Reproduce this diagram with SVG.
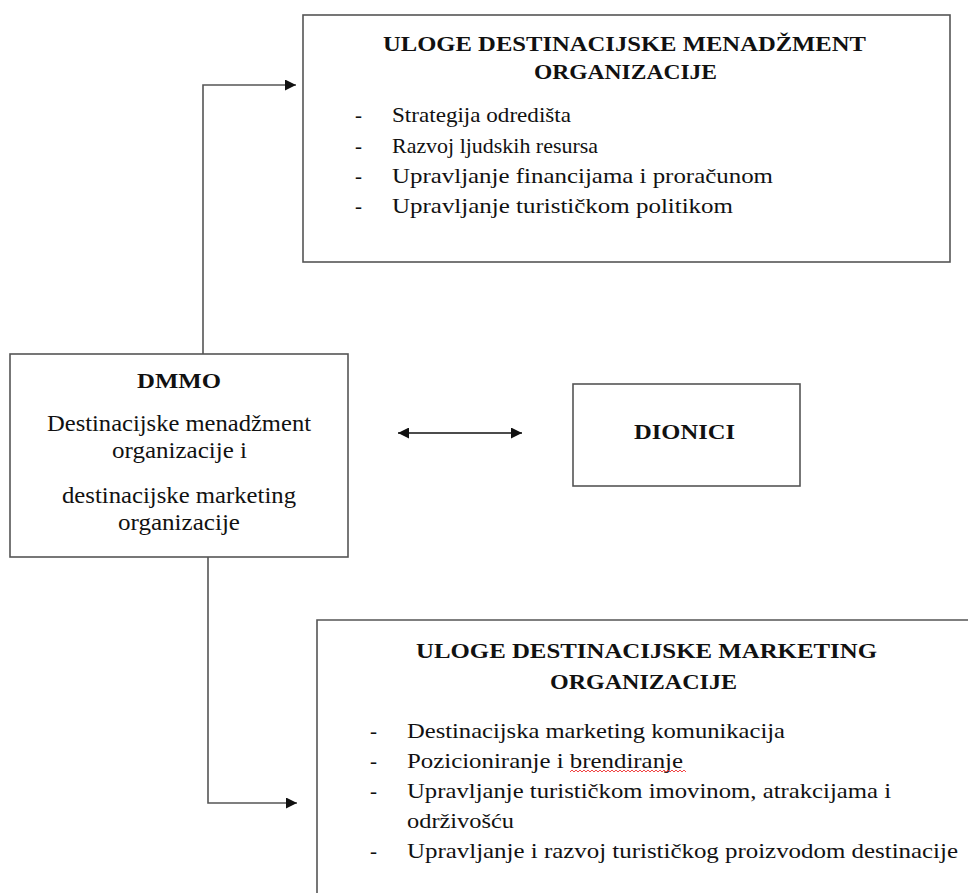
<svg xmlns="http://www.w3.org/2000/svg" width="968" height="893" viewBox="0 0 968 893">
<style>
.box{fill:#fff;stroke:#555;stroke-width:1.6}
.ln{fill:none;stroke:#555;stroke-width:1.6}
text{font-family:"Liberation Serif","DejaVu Serif",serif;fill:#111;font-size:21px}
.b{font-weight:bold;font-size:22px}
.d{font-size:23px}
</style>
<defs>
<marker id="ah" viewBox="0 0 10 10" refX="10" refY="5" markerWidth="11" markerHeight="11" markerUnits="userSpaceOnUse" orient="auto-start-reverse">
<path d="M0,0 L10,5 L0,10 z" fill="#111"/>
</marker>
</defs>
<g id="connectors">
<path class="ln" d="M203,354 V85 H296" marker-end="url(#ah)"/>
<path class="ln" d="M208,557 V803 H297" marker-end="url(#ah)"/>
<path class="ln" d="M398,433 H522" style="stroke:#111" marker-start="url(#ah)" marker-end="url(#ah)"/>
</g>
<g id="node-menadzment">
<rect class="box" x="303" y="15" width="647" height="247"/>
<text class="b" x="383" y="51" textLength="483" lengthAdjust="spacingAndGlyphs">ULOGE DESTINACIJSKE MENADŽMENT</text>
<text class="b" x="534" y="79" textLength="183" lengthAdjust="spacingAndGlyphs">ORGANIZACIJE</text>
<text x="355" y="122">-</text><text x="392" y="122" textLength="179" lengthAdjust="spacingAndGlyphs">Strategija odredišta</text>
<text x="355" y="153">-</text><text x="392" y="153" textLength="206" lengthAdjust="spacingAndGlyphs">Razvoj ljudskih resursa</text>
<text x="355" y="183">-</text><text x="392" y="183" textLength="381" lengthAdjust="spacingAndGlyphs">Upravljanje financijama i proračunom</text>
<text x="355" y="213">-</text><text x="392" y="213" textLength="341" lengthAdjust="spacingAndGlyphs">Upravljanje turističkom politikom</text>
</g>
<g id="node-dmmo">
<rect class="box" x="10" y="354" width="338" height="203"/>
<text class="b" x="137" y="388" textLength="84" lengthAdjust="spacingAndGlyphs">DMMO</text>
<text class="d" x="47" y="431" textLength="264" lengthAdjust="spacingAndGlyphs">Destinacijske menadžment</text>
<text class="d" x="112" y="458" textLength="135" lengthAdjust="spacingAndGlyphs">organizacije i</text>
<text class="d" x="62" y="503" textLength="234" lengthAdjust="spacingAndGlyphs">destinacijske marketing</text>
<text class="d" x="118" y="530" textLength="122" lengthAdjust="spacingAndGlyphs">organizacije</text>
</g>
<g id="node-dionici">
<rect class="box" x="573" y="384" width="227" height="102"/>
<text class="b" x="634" y="439" textLength="101" lengthAdjust="spacingAndGlyphs">DIONICI</text>
</g>
<g id="node-marketing">
<path class="ln" d="M317,900 V620 H975"/>
<text class="b" x="416" y="658" textLength="461" lengthAdjust="spacingAndGlyphs">ULOGE DESTINACIJSKE MARKETING</text>
<text class="b" x="550" y="689" textLength="187" lengthAdjust="spacingAndGlyphs">ORGANIZACIJE</text>
<text x="370" y="738">-</text><text x="407" y="738" textLength="378" lengthAdjust="spacingAndGlyphs">Destinacijska marketing komunikacija</text>
<text x="370" y="768">-</text><text x="407" y="768" textLength="276" lengthAdjust="spacingAndGlyphs">Pozicioniranje i brendiranje</text>
<path d="M570,772 l2,-2 l2,2 l2,-2 l2,2 l2,-2 l2,2 l2,-2 l2,2 l2,-2 l2,2 l2,-2 l2,2 l2,-2 l2,2 l2,-2 l2,2 l2,-2 l2,2 l2,-2 l2,2 l2,-2 l2,2 l2,-2 l2,2 l2,-2 l2,2 l2,-2 l2,2 l2,-2 l2,2 l2,-2 l2,2 l2,-2 l2,2 l2,-2 l2,2 l2,-2 l2,2 l2,-2 l2,2 l2,-2 l2,2 l2,-2 l2,2 l2,-2 l2,2 l2,-2 l2,2 l2,-2 l2,2 l2,-2 l2,2 l2,-2 l2,2 l2,-2 l2,2 l2,-2 l2,2" fill="none" stroke="#e33" stroke-width="0.9"/>
<text x="370" y="798">-</text><text x="407" y="798" textLength="484" lengthAdjust="spacingAndGlyphs">Upravljanje turističkom imovinom, atrakcijama i</text>
<text x="407" y="828" textLength="107" lengthAdjust="spacingAndGlyphs">održivošću</text>
<text x="370" y="858">-</text><text x="407" y="858" textLength="551" lengthAdjust="spacingAndGlyphs">Upravljanje i razvoj turističkog proizvodom destinacije</text>
</g>
</svg>
